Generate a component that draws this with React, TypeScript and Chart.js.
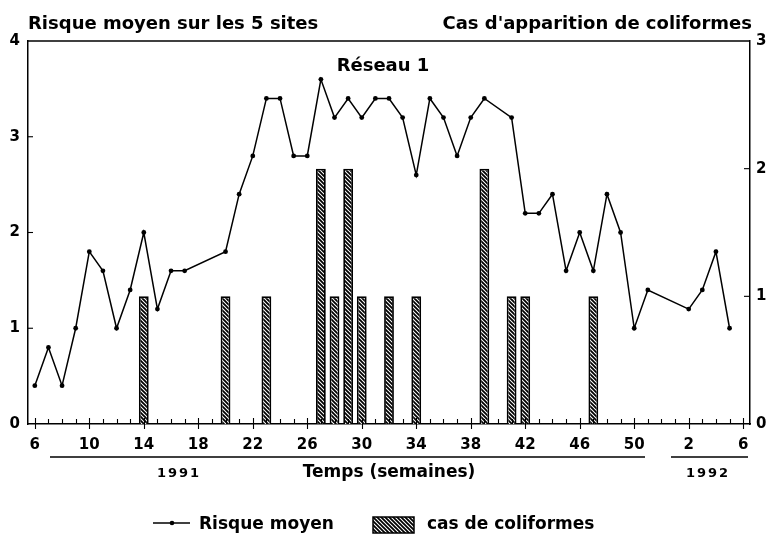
import { useEffect, useRef } from 'react';
import { Chart, registerables } from 'chart.js';

Chart.register(...registerables);

// Weeks: 1991 week 6 ... week 52, then 1992 week 1 ... week 6
const weekLabels = [
  '6', '7', '8', '9', '10', '11', '12', '13', '14', '15', '16', '17', '18', '19', '20', '21',
  '22', '23', '24', '25', '26', '27', '28', '29', '30', '31', '32', '33', '34', '35', '36', '37',
  '38', '39', '40', '41', '42', '43', '44', '45', '46', '47', '48', '49', '50', '51', '52',
  '1', '2', '3', '4', '5', '6',
];

// Risque moyen sur les 5 sites (left axis)
const risqueMoyen = [
  0.4, 0.8, 0.4, 1.0, 1.8, 1.6, 1.0, 1.4, 2.0, 1.2, 1.6, 1.6, null, null, 1.8, 2.4,
  2.8, 3.4, 3.4, 2.8, 2.8, 3.6, 3.2, 3.4, 3.2, 3.4, 3.4, 3.2, 2.6, 3.4, 3.2, 2.8,
  3.2, 3.4, null, 3.2, 2.2, 2.2, 2.4, 1.6, 2.0, 1.6, 2.4, 2.0, 1.0, 1.4, null,
  null, 1.2, 1.4, 1.8, 1.0, null,
];

// Cas d'apparition de coliformes (right axis)
const casColiformes = [
  null, null, null, null, null, null, null, null, 1, null, null, null, null, null, 1, null,
  null, 1, null, null, null, 2, 1, 2, 1, null, 1, null, 1, null, null, null,
  null, 2, null, 1, 1, null, null, null, null, 1, null, null, null, null, null,
  null, null, null, null, null, null,
];

const leftAxisMax = 4;
const rightAxisMax = 3;
const labelEvery = 4;

const titleLeft = 'Risque moyen sur les 5 sites';
const titleRight = "Cas d'apparition de coliformes";
const chartTitle = 'Réseau 1';
const xTitle = 'Temps (semaines)';
const year1 = '1991';
const year2 = '1992';
const legendLine = 'Risque moyen';
const legendBar = 'cas de coliformes';

const FONT = '"DejaVu Sans", sans-serif';

function makeHatch(): CanvasPattern | string {
  const c = document.createElement('canvas');
  c.width = 4;
  c.height = 4;
  const g = c.getContext('2d');
  if (!g) return '#888';
  g.fillStyle = '#fff';
  g.fillRect(0, 0, 4, 4);
  g.strokeStyle = '#000';
  g.lineWidth = 1.8;
  g.beginPath();
  g.moveTo(-1, -1); g.lineTo(5, 5);
  g.moveTo(-1, 3); g.lineTo(1, 5);
  g.moveTo(3, -1); g.lineTo(5, 1);
  g.stroke();
  const p = g.createPattern(c, 'repeat');
  return p || '#888';
}

export default function App() {
  const ref = useRef<HTMLCanvasElement | null>(null);

  useEffect(() => {
    if (!ref.current) return;
    const hatch = makeHatch();

    const decor = {
      id: 'decor',
      afterDraw(chart: any) {
        const { ctx, chartArea: a, scales } = chart;
        const xs = scales.x;
        const ys = scales.y;
        const ys1 = scales.y1;
        ctx.save();
        ctx.strokeStyle = '#000';
        ctx.fillStyle = '#000';
        // top frame line
        ctx.lineWidth = 1.5;
        ctx.beginPath();
        ctx.moveTo(a.left, a.top);
        ctx.lineTo(a.right, a.top);
        ctx.stroke();
        // x tick marks (inside)
        ctx.lineWidth = 1.1;
        weekLabels.forEach((_, i) => {
          const px = Math.round(xs.getPixelForValue(i)) + 0.5;
          const major = i % labelEvery === 0;
          ctx.beginPath();
          ctx.moveTo(px, a.bottom + (major ? 5 : 0));
          ctx.lineTo(px, a.bottom - (major ? 6 : 5));
          ctx.stroke();
        });
        // y tick marks (inside)
        for (let v = 1; v < leftAxisMax; v++) {
          const py = ys.getPixelForValue(v);
          ctx.beginPath();
          ctx.moveTo(a.left, py);
          ctx.lineTo(a.left + 5, py);
          ctx.stroke();
        }
        for (let v = 1; v < rightAxisMax; v++) {
          const py = ys1.getPixelForValue(v);
          ctx.beginPath();
          ctx.moveTo(a.right, py);
          ctx.lineTo(a.right - 6, py);
          ctx.stroke();
        }
        // titles
        ctx.textBaseline = 'alphabetic';
        ctx.font = `bold 18px ${FONT}`;
        ctx.textAlign = 'left';
        ctx.fillText(titleLeft, 28, 29);
        ctx.textAlign = 'right';
        ctx.fillText(titleRight, 752, 29);
        ctx.textAlign = 'center';
        ctx.fillText(chartTitle, 383, 71);

        // year underlines
        const yl = a.bottom + 33;
        ctx.lineWidth = 1.5;
        ctx.beginPath();
        ctx.moveTo(50, yl); ctx.lineTo(645, yl);
        ctx.moveTo(671, yl); ctx.lineTo(748, yl);
        ctx.stroke();
        ctx.font = `bold 13px ${FONT}`;
        (ctx as any).letterSpacing = '2px';
        ctx.fillText(year1, 179, 477);
        ctx.fillText(year2, 708, 477);
        (ctx as any).letterSpacing = '0px';
        ctx.font = `bold 17px ${FONT}`;
        ctx.fillText(xTitle, 389, 477);

        // legend
        const ly = 523;
        ctx.lineWidth = 1.4;
        ctx.beginPath();
        ctx.moveTo(153, ly); ctx.lineTo(190, ly);
        ctx.stroke();
        ctx.beginPath();
        ctx.arc(172, ly, 2.3, 0, Math.PI * 2);
        ctx.fill();
        ctx.textAlign = 'left';
        ctx.fillText(legendLine, 199, 529);
        ctx.fillStyle = hatch as any;
        ctx.fillRect(373, 517, 41, 16);
        ctx.lineWidth = 1.5;
        ctx.strokeRect(373, 517, 41, 16);
        ctx.fillStyle = '#000';
        ctx.fillText(legendBar, 427, 529);
        ctx.restore();
      },
    };

    const chart = new Chart(ref.current, {
      type: 'bar',
      data: {
        labels: weekLabels,
        datasets: [
          {
            type: 'line',
            label: legendLine,
            data: risqueMoyen,
            yAxisID: 'y',
            borderColor: '#000',
            borderWidth: 1.5,
            pointRadius: 2.4,
            pointBackgroundColor: '#000',
            pointBorderWidth: 0,
            spanGaps: true,
            tension: 0,
            order: 0,
          } as any,
          {
            type: 'bar',
            label: legendBar,
            data: casColiformes,
            yAxisID: 'y1',
            backgroundColor: hatch as any,
            borderColor: '#000',
            borderWidth: 1.8,
            barPercentage: 0.72,
            categoryPercentage: 1,
            order: 1,
          } as any,
        ],
      },
      options: {
        animation: false,
        responsive: false,
        layout: { padding: { top: 41, left: 0, right: 0, bottom: 0 } },
        plugins: {
          legend: { display: false },
          tooltip: { enabled: false },
          title: { display: false },
        },
        scales: {
          x: {
            type: 'category',
            offset: true,
            grid: { display: false, drawTicks: false },
            border: { display: true, color: '#000', width: 1.5 },
            ticks: {
              autoSkip: false,
              maxRotation: 0,
              minRotation: 0,
              padding: 12,
              color: '#000',
              font: { family: FONT, size: 15, weight: 'bold' },
              callback: (_v: any, i: number) => (i % labelEvery === 0 ? weekLabels[i] : ''),
            },
            afterFit: (s: any) => { s.height = 112; },
          },
          y: {
            position: 'left',
            min: 0,
            max: leftAxisMax,
            grid: { display: false, drawTicks: false },
            border: { display: true, color: '#000', width: 1.5 },
            ticks: {
              stepSize: 1,
              padding: 8,
              color: '#000',
              font: { family: FONT, size: 15, weight: 'bold' },
            },
            afterFit: (s: any) => { s.width = 28; },
          },
          y1: {
            position: 'right',
            min: 0,
            max: rightAxisMax,
            grid: { display: false, drawTicks: false },
            border: { display: true, color: '#000', width: 1.5 },
            ticks: {
              stepSize: 1,
              padding: 6,
              color: '#000',
              font: { family: FONT, size: 15, weight: 'bold' },
            },
            afterFit: (s: any) => { s.width = 20; },
          },
        },
      } as any,
      plugins: [decor],
    });
    return () => chart.destroy();
  }, []);

  return (
    <div style={{ position: 'fixed', left: 0, top: 0, width: 770, height: 536, background: '#fff' }}>
      <canvas ref={ref} width={770} height={536} />
    </div>
  );
}
